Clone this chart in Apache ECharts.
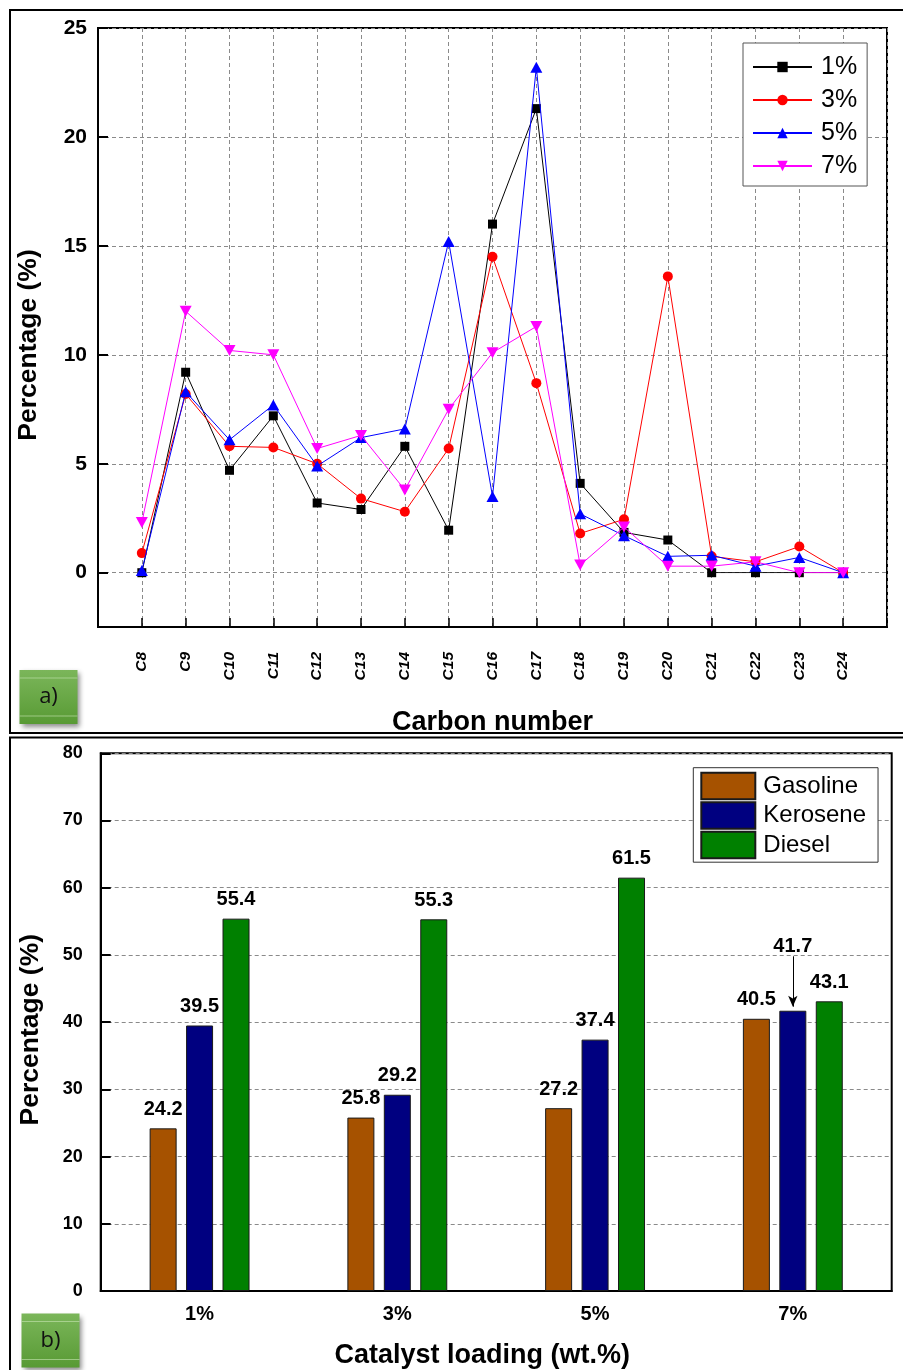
<!DOCTYPE html>
<html>
<head>
<meta charset="utf-8">
<script src="https://cdn.jsdelivr.net/npm/echarts@6/dist/echarts.min.js"></script>
<style>
html,body{margin:0;padding:0;background:#fff;}
#chart{width:903px;height:1370px;}
</style>
</head>
<body>
<div id="chart"></div>
<script>
// ---- Panel a) data ----
const carbonNumbers = ['C8','C9','C10','C11','C12','C13','C14','C15','C16','C17','C18','C19','C20','C21','C22','C23','C24'];
const seriesNamesA = ['1%','3%','5%','7%'];
const loading1 = [0, 9.2, 4.7, 7.2, 3.2, 2.9, 5.8, 1.95, 16.0, 21.3, 4.1, 1.85, 1.5, 0, 0, 0, 0];
const loading3 = [0.9, 8.2, 5.8, 5.75, 5.0, 3.4, 2.8, 5.7, 14.5, 8.7, 1.8, 2.45, 13.6, 0.75, 0.5, 1.2, 0];
const loading5 = [0.1, 8.3, 6.1, 7.7, 4.9, 6.2, 6.6, 15.2, 3.5, 23.2, 2.7, 1.7, 0.75, 0.8, 0.3, 0.7, 0];
const loading7 = [2.3, 12.0, 10.2, 10.0, 5.7, 6.3, 3.8, 7.5, 10.1, 11.3, 0.35, 2.1, 0.3, 0.3, 0.5, 0, 0];

// ---- Panel b) data ----
const catalystLoadings = ['1%','3%','5%','7%'];
const fractionNames = ['Gasoline','Kerosene','Diesel'];
const gasoline = [24.2, 25.8, 27.2, 40.5];
const kerosene = [39.5, 29.2, 37.4, 41.7];
const diesel = [55.4, 55.3, 61.5, 43.1];
const keroseneArrowFrom = 49.8; // top of annotation arrow for 7% kerosene label
const keroseneArrowTo = 42.3;

const F = 'Liberation Sans, Arial, sans-serif';
const paddedCats = [''].concat(carbonNumbers, ['']);
const pad = arr => [null].concat(arr, [null]);
const dash = {color:'#8a8a8a', width:1, type:[4,3]};

const lineColors = ['#000000','#ff0000','#0000ff','#ff00ff'];
const lineSymbols = ['rect','circle','triangle','path://M0,0 L10,0 L5,9 Z'];
const lineSizes = [9,10,[12,11],[12,11]];
const lineData = [loading1, loading3, loading5, loading7];

const barColors = ['#a65200','#000080','#008000'];
const barData = [gasoline, kerosene, diesel];

function badge(x, y, label){
  return {
    type:'group', x:x, y:y, children:[
      {type:'rect', shape:{x:0,y:0,width:58,height:54},
       style:{fill:{type:'linear',x:0,y:0,x2:0,y2:1,colorStops:[{offset:0,color:'#7bb65a'},{offset:1,color:'#589a34'}]},
              shadowBlur:5, shadowColor:'rgba(0,0,0,0.45)', shadowOffsetX:2, shadowOffsetY:3}},
      {type:'line', shape:{x1:0,y1:8,x2:58,y2:8}, style:{stroke:'rgba(200,230,180,0.6)', lineWidth:1}},
      {type:'line', shape:{x1:0,y1:46,x2:58,y2:46}, style:{stroke:'rgba(200,230,180,0.6)', lineWidth:1}},
      {type:'text', style:{text:label, x:29, y:27, textAlign:'center', textVerticalAlign:'middle', fontSize:22, fontFamily:'Open Sans, sans-serif', fill:'#111'}}
    ]
  };
}

const option = {
  animation:false,
  backgroundColor:'#fff',
  grid:[
    {left:98, top:28, width:789, height:599, show:true, borderColor:'#000', borderWidth:2, backgroundColor:'transparent'},
    {left:98, top:28, width:789, height:544.7},
    {left:100.7, top:753.3, width:791, height:538.4, show:true, borderColor:'#000', borderWidth:2, backgroundColor:'transparent'}
  ],
  legend:[
    {
      data:seriesNamesA, orient:'vertical', left:743, top:43,
      itemWidth:59, itemHeight:13, itemGap:5,
      padding:[10,10,6,9],
      borderColor:'#555', borderWidth:1, backgroundColor:'#fff',
      textStyle:{fontSize:25, fontFamily:F, color:'#000', lineHeight:28, padding:[0,0,0,4]}
    },
    {
      data:fractionNames, orient:'vertical', left:693.3, top:767.7,
      itemWidth:54, itemHeight:26.5, itemGap:1, icon:'rect',
      padding:[4,12,3,7],
      borderColor:'#333', borderWidth:1, backgroundColor:'#fff',
      textStyle:{fontSize:24, fontFamily:F, color:'#000', lineHeight:26, height:26, padding:[0,0,0,3]}
    }
  ],
  xAxis:[
    {
      gridIndex:0, type:'category', data:paddedCats, boundaryGap:false,
      axisLine:{onZero:false, lineStyle:{color:'#000', width:2}},
      axisTick:{inside:true, length:9, interval:0, lineStyle:{color:'#000', width:1.5}},
      axisLabel:{interval:0, rotate:90, margin:25, fontSize:15.5, fontWeight:'bold', fontStyle:'italic', fontFamily:F, color:'#000'},
      splitLine:{show:true, interval:0, lineStyle:dash},
      name:'Carbon number', nameLocation:'middle', nameGap:82,
      nameTextStyle:{fontSize:27, fontWeight:'bold', fontFamily:F, color:'#000'}
    },
    {
      gridIndex:1, type:'category', data:paddedCats, boundaryGap:false, show:false
    },
    {
      gridIndex:2, type:'category', data:catalystLoadings,
      axisLine:{onZero:false, lineStyle:{color:'#000', width:2}},
      axisTick:{show:false},
      axisLabel:{fontSize:20, fontWeight:'bold', fontFamily:F, color:'#000', margin:13},
      splitLine:{show:false},
      name:'Catalyst loading (wt.%)', nameLocation:'middle', nameGap:51,
      nameTextStyle:{fontSize:27, fontWeight:'bold', fontFamily:F, color:'#000', padding:[0,28,0,0]}
    }
  ],
  yAxis:[
    {
      gridIndex:0, type:'value', min:-2.5, max:25,
      axisLine:{show:true, onZero:false, lineStyle:{color:'#000', width:2}},
      axisTick:{show:false}, axisLabel:{show:false}, splitLine:{show:false},
      name:'Percentage (%)', nameLocation:'middle', nameGap:56,
      nameTextStyle:{fontSize:26.5, fontWeight:'bold', fontFamily:F, color:'#000', padding:[0,35,0,0]}
    },
    {
      gridIndex:1, type:'value', min:0, max:25, interval:5,
      axisLine:{show:false},
      axisTick:{show:true, inside:true, length:10, lineStyle:{color:'#000', width:2}},
      axisLabel:{fontSize:21, fontWeight:'bold', fontFamily:F, color:'#000', margin:11},
      splitLine:{show:true, lineStyle:dash}
    },
    {
      gridIndex:2, type:'value', min:0, max:80, interval:10,
      axisLine:{show:true, onZero:false, lineStyle:{color:'#000', width:2}},
      axisTick:{show:true, inside:true, length:10, lineStyle:{color:'#000', width:2}},
      axisLabel:{fontSize:18, fontWeight:'bold', fontFamily:F, color:'#000', margin:18},
      splitLine:{show:true, lineStyle:dash},
      name:'Percentage (%)', nameLocation:'middle', nameGap:57,
      nameTextStyle:{fontSize:26.5, fontWeight:'bold', fontFamily:F, color:'#000', padding:[0,15,0,0]}
    }
  ],
  series:[],
  graphic:[
    {type:'polyline', shape:{points:[[905,10],[10,10],[10,733],[905,733]]}, style:{stroke:'#000', lineWidth:2, fill:null}},
    {type:'polyline', shape:{points:[[905,737.5],[10,737.5],[10,1375]]}, style:{stroke:'#000', lineWidth:2, fill:null}},
    badge(19.5, 670, 'a)'),
    badge(21.5, 1313.5, 'b)')
  ]
};

seriesNamesA.forEach((name, i) => {
  option.series.push({
    name:name, type:'line', xAxisIndex:1, yAxisIndex:1,
    data:pad(lineData[i]),
    symbol:lineSymbols[i], symbolSize:lineSizes[i],
    lineStyle:{color:lineColors[i], width:1},
    itemStyle:{color:lineColors[i]},
    z:2+i
  });
});

fractionNames.forEach((name, i) => {
  const s = {
    name:name, type:'bar', xAxisIndex:2, yAxisIndex:2,
    barWidth:27, barGap:'35%',
    data:barData[i].map((v, j) => {
      const item = {value:v};
      if (name === 'Kerosene' && j === 3) item.label = {distance:54};
      return item;
    }),
    itemStyle:{color:barColors[i], borderColor:'#1a1a1a', borderWidth:1},
    label:{show:true, position:'top', distance:9, fontSize:20, fontWeight:'bold', fontFamily:F, color:'#000',
           formatter:p => Number(p.value).toFixed(1)}
  };
  if (name === 'Kerosene') {
    s.markLine = {
      silent:true, symbol:['none','arrow'], symbolSize:[7,11],
      label:{show:false},
      lineStyle:{color:'#000', width:1, type:'solid'},
      data:[[{coord:[3, keroseneArrowFrom]}, {coord:[3, keroseneArrowTo]}]]
    };
  }
  option.series.push(s);
});

const chart = echarts.init(document.getElementById('chart'), null, {renderer:'canvas'});
chart.setOption(option);
</script>
</body>
</html>
